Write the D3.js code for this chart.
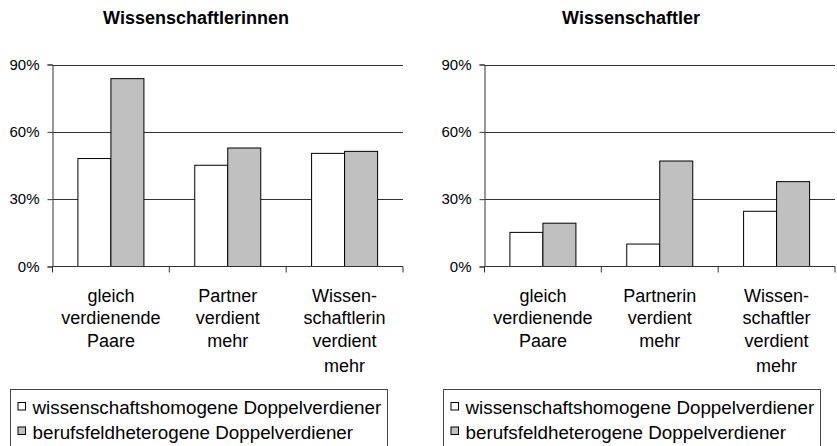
<!DOCTYPE html>
<html>
<head>
<meta charset="utf-8">
<script src="https://cdn.jsdelivr.net/npm/d3@7"></script>
<style>
  html, body { margin: 0; padding: 0; background: #fff; }
  svg { display: block; font-family: Arial, "Liberation Sans", sans-serif; }
</style>
</head>
<body>
<svg id="chart" width="837" height="446"></svg>
<script>
// ---- data ----
const titles = ["Wissenschaftlerinnen", "Wissenschaftler"];
const categoriesLeft = [["gleich", "verdienende", "Paare"], ["Partner", "verdient", "mehr"], ["Wissen-", "schaftlerin", "verdient", "mehr"]];
const categoriesRight = [["gleich", "verdienende", "Paare"], ["Partnerin", "verdient", "mehr"], ["Wissen-", "schaftler", "verdient", "mehr"]];
const seriesNames = ["wissenschaftshomogene Doppelverdiener", "berufsfeldheterogene Doppelverdiener"];
const homogenLeft = [48.1, 45.1, 50.4];
const heterogenLeft = [83.7, 52.8, 51.3];
const homogenRight = [15.2, 10.0, 24.6];
const heterogenRight = [19.3, 47.0, 37.8];
const yTicks = [0, 30, 60, 90];
const seriesColors = ["#ffffff", "#c0c0c0"];

// ---- drawing ----
const svg = d3.select("#chart");
const lineColor = "#333";

const panels = [
  { title: titles[0], cats: categoriesLeft, vals: [homogenLeft, heterogenLeft], x0: 52.5, x1: 403, titleX: 196, legendX: 10.5, legendW: 377 },
  { title: titles[1], cats: categoriesRight, vals: [homogenRight, heterogenRight], x0: 484.5, x1: 835, titleX: 631, legendX: 443.5, legendW: 377 }
];

const y = d3.scaleLinear().domain([0, 90]).range([266.5, 64.5]);
const lineOffsets = [0, 22, 44.5, 69.5];

panels.forEach(p => {
  const g = svg.append("g");
  const idx = p.cats.map((d, i) => i);
  const x = d3.scaleBand().domain(idx).range([p.x0, p.x1]).paddingInner(0).paddingOuter(0);
  const xs = d3.scaleBand().domain([0, 1]).range([0, x.bandwidth()]).paddingInner(0).paddingOuter(0.77);

  // title
  g.append("text").attr("x", p.titleX).attr("y", 24).attr("text-anchor", "middle")
    .attr("font-weight", "bold").attr("font-size", 18).attr("fill", "#000").text(p.title);

  // gridlines
  g.selectAll("line.grid").data(yTicks.filter(t => t > 0)).enter().append("line")
    .attr("class", "grid")
    .attr("x1", p.x0).attr("x2", p.x1)
    .attr("y1", d => Math.round(y(d)) + 0.5).attr("y2", d => Math.round(y(d)) + 0.5)
    .attr("stroke", lineColor).attr("stroke-width", 1);

  // bars
  p.vals.forEach((series, si) => {
    g.selectAll("rect.s" + si).data(series).enter().append("rect")
      .attr("class", "s" + si)
      .attr("x", (d, i) => x(i) + xs(si))
      .attr("width", xs.bandwidth())
      .attr("y", d => y(d))
      .attr("height", d => y(0) - y(d))
      .attr("fill", seriesColors[si])
      .attr("stroke", "#000").attr("stroke-width", 1);
  });

  // y axis
  const yAxis = d3.axisLeft(y).tickValues(yTicks).tickSize(5).tickPadding(8).tickFormat(d => d + "%");
  const ya = g.append("g").attr("transform", `translate(${p.x0},0)`).call(yAxis);
  ya.select(".domain").attr("stroke", lineColor);
  ya.selectAll(".tick line").attr("stroke", lineColor);
  ya.selectAll(".tick text").attr("font-size", 15).attr("fill", "#000")
    .attr("font-family", "Arial, 'Liberation Sans', sans-serif");

  // x axis baseline and boundary ticks
  g.append("line").attr("x1", p.x0).attr("x2", p.x1)
    .attr("y1", y(0)).attr("y2", y(0)).attr("stroke", lineColor);
  const bounds = idx.map(i => x(i)).concat([p.x1]);
  g.selectAll("line.xt").data(bounds).enter().append("line")
    .attr("class", "xt")
    .attr("x1", d => d).attr("x2", d => d)
    .attr("y1", y(0)).attr("y2", y(0) + 6)
    .attr("stroke", lineColor);

  // category labels
  p.cats.forEach((lines, i) => {
    const t = g.append("text").attr("text-anchor", "middle").attr("font-size", 18).attr("fill", "#000");
    lines.forEach((ln, li) => {
      t.append("tspan").attr("x", x(i) + x.bandwidth() / 2).attr("y", 302 + lineOffsets[li]).text(ln);
    });
  });

  // legend
  const lg = g.append("g");
  lg.append("rect").attr("x", p.legendX).attr("y", 389.5).attr("width", p.legendW).attr("height", 70)
    .attr("fill", "none").attr("stroke", "#444");
  seriesNames.forEach((name, si) => {
    lg.append("rect").attr("x", p.legendX + 7.5).attr("y", 402.5 + si * 24.5).attr("width", 7.5).attr("height", 7.5)
      .attr("fill", seriesColors[si]).attr("stroke", "#000");
    lg.append("text").attr("x", p.legendX + 22).attr("y", 413.5 + si * 25).attr("font-size", 18.8)
      .attr("fill", "#000").text(name);
  });
});
</script>
</body>
</html>
